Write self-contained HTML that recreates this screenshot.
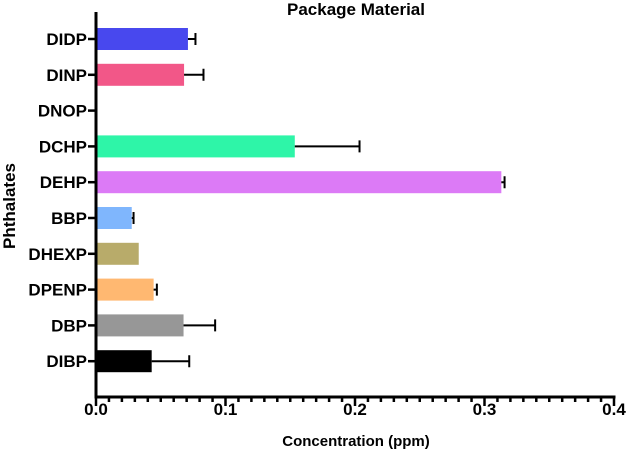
<!DOCTYPE html>
<html><head><meta charset="utf-8"><style>
body{margin:0;background:#fff;width:629px;height:456px;overflow:hidden}
text{font-family:"Liberation Sans",Arial,sans-serif;font-weight:bold;fill:#000}
</style></head><body>
<svg id="chart" width="629" height="456" viewBox="0 0 629 456" xmlns="http://www.w3.org/2000/svg">
<text x="356" y="15" font-size="17" text-anchor="middle">Package Material</text>
<text transform="translate(15,206) rotate(-90)" font-size="17" text-anchor="middle">Phthalates</text>
<text x="356" y="446" font-size="15" text-anchor="middle">Concentration (ppm)</text>
<g id="plot"></g>
</svg>
<script>
const categories=["DIDP","DINP","DNOP","DCHP","DEHP","BBP","DHEXP","DPENP","DBP","DIBP"];
const values=[0.071,0.068,0.001,0.1535,0.313,0.0276,0.033,0.0445,0.0676,0.043];
const errors=[0.0058,0.015,0,0.05,0.0025,0.0014,0,0.0025,0.0244,0.029];
const colors=["#4848ee","#f25788","#000000","#2ef5a8","#dc7af6","#7fb6fd","#b8ab6a","#ffb871","#979797","#000000"];
const xTicks=[0,0.1,0.2,0.3,0.4];
const xTickLabels=["0.0","0.1","0.2","0.3","0.4"];
const X0=96,X1=614,FIRST=39,STEP=35.8,Y1=397,TOP=12;
const xs=v=>X0+(v/0.4)*(X1-X0);
const yc=i=>FIRST+STEP*i;
const g=document.getElementById('plot');
const NS="http://www.w3.org/2000/svg";
function mk(t,a){const e=document.createElementNS(NS,t);for(const k in a)e.setAttribute(k,a[k]);g.appendChild(e);return e;}
categories.forEach((c,i)=>{
  const y=yc(i),h=22;
  const r=mk('rect',{x:X0,y:y-h/2,width:Math.max(1.5,xs(values[i])-X0),height:h,fill:colors[i]});
  
  
  if(errors[i]>0){
    const xe=xs(values[i]+errors[i]);
    const l=mk('path',{d:`M${xs(values[i])} ${y}H${xe}M${xe} ${y-6}V${y+6}`,stroke:'#000','stroke-width':2,fill:'none'});
    
    
  }
  mk('line',{x1:X0-8,x2:X0,y1:y,y2:y,stroke:'#000','stroke-width':2.5});
  const t=mk('text',{x:X0-9,y:y+6,'font-size':17,'text-anchor':'end'});
  t.textContent=c;
  
  
});
const ya=mk('line',{x1:X0,x2:X0,y1:TOP,y2:Y1+1.5,stroke:'#000','stroke-width':3});


const xa=mk('line',{x1:X0-1.5,x2:X1+1.5,y1:Y1,y2:Y1,stroke:'#000','stroke-width':3});


for(let k=0;k<=40;k++){
  const x=xs(k*0.01),maj=k%10===0;
  mk('line',{x1:x,x2:x,y1:Y1,y2:Y1+(maj?9:5),stroke:'#000','stroke-width':2.5});
}
xTicks.forEach((v,i)=>{
  const t=mk('text',{x:xs(v),y:415,'font-size':17,'text-anchor':'middle'});
  t.textContent=xTickLabels[i];
  
  
});
</script>
</body></html>
